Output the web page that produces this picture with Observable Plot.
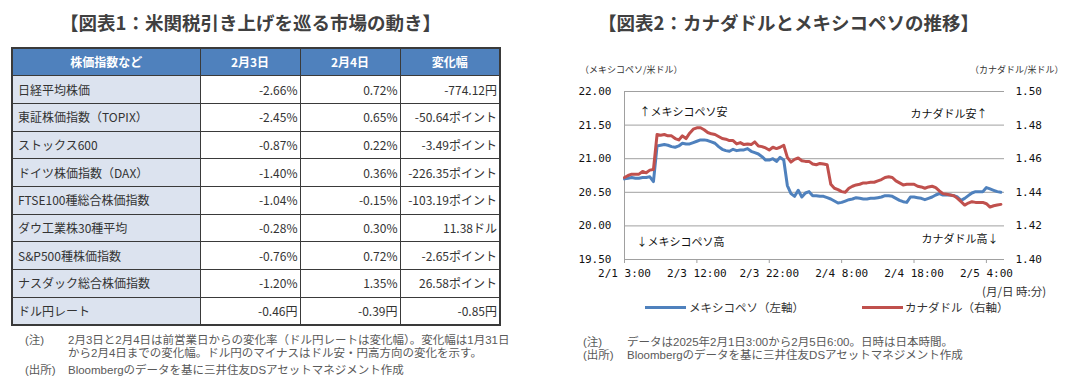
<!DOCTYPE html>
<html><head><meta charset="utf-8">
<script src="https://cdn.jsdelivr.net/npm/d3@7"></script>
<script src="https://cdn.jsdelivr.net/npm/@observablehq/plot@0.6"></script>
<style>
html,body{margin:0;padding:0;background:#fff;}
body{width:1084px;height:385px;position:relative;overflow:hidden;font-family:"Noto Sans CJK JP","Noto Sans",sans-serif;color:#333;}
.abs{position:absolute;white-space:nowrap;}
.title{font-weight:bold;font-size:18.5px;color:#404040;top:9px;}
table{position:absolute;left:11px;top:47px;width:488px;border-collapse:collapse;border:2px solid #3a3a3a;table-layout:fixed;font-size:12px;}
tr{height:27.7px;}
td,th{border:1px solid #3a3a3a;padding:0;line-height:14px;}
th{background:#4F81BD;color:#fff;font-weight:bold;text-align:center;}
td.name{background:#DCE3EF;padding-left:5px;text-align:left;}
td.num{text-align:right;padding-right:2px;}
.note{font-family:"Liberation Sans","Noto Sans CJK JP",sans-serif;font-size:11.5px;color:#595959;line-height:13px;}
.small{font-size:9px;color:#333;line-height:11px;}
.leg{font-size:11.5px;color:#333;line-height:14px;}
.sw{position:absolute;height:3px;}
</style>
</head><body>
<div class="abs title" style="left:60px;">【図表1：米関税引き上げを巡る市場の動き】</div>
<div class="abs title" style="left:598px;">【図表2：カナダドルとメキシコペソの推移】</div>
<div id="tbl"></div>
<div class="abs note" style="left:25px;top:334px;">(注)</div>
<div class="abs note" style="left:68px;top:334px;">2月3日と2月4日は前営業日からの変化率（ドル円レートは変化幅）。変化幅は1月31日<br>から2月4日までの変化幅。ドル円のマイナスはドル安・円高方向の変化を示す。</div>
<div class="abs note" style="left:25px;top:364px;">(出所)</div>
<div class="abs note" style="left:68px;top:364px;">Bloombergのデータを基に三井住友DSアセットマネジメント作成</div>

<div class="abs small" id="ylabL" style="left:580px;top:64px;"></div>
<div class="abs small" id="ylabR" style="left:970px;top:64px;"></div>
<div id="chart" class="abs" style="left:560px;top:55px;"></div>
<div class="abs leg" style="left:982px;top:284px;">(月/日 時:分)</div>
<div class="sw" style="left:645px;top:306px;width:41px;background:#4F81BD;"></div>
<div class="abs leg" id="legB" style="left:689px;top:300px;"></div>
<div class="sw" style="left:862px;top:306px;width:41px;background:#C0504D;"></div>
<div class="abs leg" id="legR" style="left:905px;top:300px;"></div>
<div class="abs note" style="left:583px;top:336px;">(注)</div>
<div class="abs note" style="left:627px;top:336px;">データは2025年2月1日3:00から2月5日6:00。日時は日本時間。</div>
<div class="abs note" style="left:583px;top:349px;">(出所)</div>
<div class="abs note" style="left:627px;top:349px;">Bloombergのデータを基に三井住友DSアセットマネジメント作成</div>

<script>
// ---- Figure 1 table data ----
const headers = ["株価指数など", "2月3日", "2月4日", "変化幅"];
const names = ["日経平均株価","東証株価指数（TOPIX）","ストックス600","ドイツ株価指数（DAX）","FTSE100種総合株価指数","ダウ工業株30種平均","S&P500種株価指数","ナスダック総合株価指数","ドル円レート"];
const feb3 = ["-2.66%","-2.45%","-0.87%","-1.40%","-1.04%","-0.28%","-0.76%","-1.20%","-0.46円"];
const feb4 = ["0.72%","0.65%","0.22%","0.36%","-0.15%","0.30%","0.72%","1.35%","-0.39円"];
const change = ["-774.12円","-50.64ポイント","-3.49ポイント","-226.35ポイント","-103.19ポイント","11.38ドル","-2.65ポイント","26.58ポイント","-0.85円"];

// ---- Figure 2 chart data (30-minute observations, trading hours only) ----
const seriesNames = ["メキシコペソ（左軸）", "カナダドル（右軸）"];
const axisUnits = ["（メキシコペソ/米ドル）", "（カナダドル/米ドル）"];
const peso = [20.70,20.71,20.72,20.71,20.71,20.72,20.72,20.73,20.66,21.19,21.20,21.21,21.20,21.18,21.17,21.19,21.23,21.22,21.22,21.24,21.26,21.28,21.28,21.27,21.25,21.23,21.18,21.14,21.12,21.11,21.14,21.12,21.13,21.13,21.15,21.11,21.09,21.07,21.03,20.98,20.98,21.00,20.96,21.02,20.98,20.60,20.48,20.44,20.53,20.43,20.49,20.51,20.45,20.45,20.44,20.44,20.42,20.40,20.37,20.34,20.35,20.37,20.39,20.40,20.42,20.41,20.40,20.40,20.41,20.41,20.42,20.43,20.45,20.45,20.44,20.41,20.38,20.36,20.35,20.43,20.43,20.42,20.41,20.39,20.41,20.43,20.46,20.48,20.46,20.46,20.46,20.45,20.43,20.38,20.41,20.45,20.49,20.51,20.51,20.51,20.57,20.55,20.53,20.51,20.50];
const cad = [1.4488,1.4500,1.4508,1.4508,1.4508,1.4524,1.4516,1.4532,1.4536,1.4744,1.4740,1.4744,1.4736,1.4736,1.4720,1.4712,1.4736,1.4720,1.4752,1.4776,1.4784,1.4784,1.4772,1.4756,1.4748,1.4744,1.4732,1.4720,1.4716,1.4708,1.4708,1.4688,1.4696,1.4684,1.4688,1.4684,1.4700,1.4676,1.4672,1.4664,1.4652,1.4668,1.4660,1.4668,1.4680,1.4608,1.4580,1.4596,1.4604,1.4588,1.4584,1.4584,1.4568,1.4564,1.4572,1.4568,1.4564,1.4448,1.4424,1.4416,1.4404,1.4400,1.4424,1.4436,1.4444,1.4448,1.4456,1.4456,1.4460,1.4460,1.4468,1.4476,1.4488,1.4492,1.4488,1.4468,1.4456,1.4444,1.4448,1.4448,1.4448,1.4436,1.4432,1.4424,1.4432,1.4436,1.4428,1.4408,1.4392,1.4388,1.4384,1.4380,1.4364,1.4344,1.4324,1.4336,1.4344,1.4340,1.4340,1.4340,1.4332,1.4312,1.4320,1.4324,1.4328];
const tickPos = [0, 20, 40, 60, 80, 100];
const tickLabels = ["2/1 3:00","2/3 12:00","2/3 22:00","2/4 8:00","2/4 18:00","2/5 4:00"];
const leftTicks = [19.5, 20.0, 20.5, 21.0, 21.5, 22.0];
const rightTicks = [1.40, 1.42, 1.44, 1.46, 1.48, 1.50];
const notes = ["↑メキシコペソ安", "カナダドル安↑", "↓メキシコペソ高", "カナダドル高↓"];

// build table
const t = document.createElement("table");
const cols = document.createElement("colgroup");
[188, 100, 100, 100].forEach(w => { const c = document.createElement("col"); c.style.width = w + "px"; cols.appendChild(c); });
t.appendChild(cols);
const hr = t.insertRow();
headers.forEach(h => { const th = document.createElement("th"); th.textContent = h; hr.appendChild(th); });
names.forEach((n, i) => {
  const r = t.insertRow();
  const c0 = r.insertCell(); c0.className = "name"; c0.textContent = n;
  [feb3[i], feb4[i], change[i]].forEach(v => { const c = r.insertCell(); c.className = "num"; c.textContent = v; });
});
document.getElementById("tbl").appendChild(t);

document.getElementById("ylabL").textContent = axisUnits[0];
document.getElementById("ylabR").textContent = axisUnits[1];
document.getElementById("legB").textContent = seriesNames[0];
document.getElementById("legR").textContent = seriesNames[1];

// chart
const lo = leftTicks[0], hi = leftTicks[leftTicks.length - 1];
const rlo = rightTicks[0], rhi = rightTicks[rightTicks.length - 1];
const toLeft = r => lo + (r - rlo) / (rhi - rlo) * (hi - lo);
const toRight = v => rlo + (v - lo) / (hi - lo) * (rhi - rlo);
const data = peso.map((v, i) => ({i, peso: v, cad: cad[i]}));
const jp = "Noto Sans CJK JP";
const chart = Plot.plot({
  width: 510, height: 240,
  marginLeft: 64, marginRight: 66, marginTop: 36, marginBottom: 36,
  style: {fontFamily: "DejaVu Sans Mono", fontSize: "11px", color: "#111", background: "transparent"},
  x: {domain: [0, 105], axis: null},
  y: {domain: [lo, hi], axis: null},
  marks: [
    Plot.ruleY(leftTicks, {stroke: "#a0a0a0", strokeWidth: 1}),
    Plot.ruleX([0], {stroke: "#a0a0a0", strokeWidth: 1}),
    Plot.axisY(leftTicks, {anchor: "left", label: null, tickSize: 0, tickPadding: 13, tickFormat: d => d.toFixed(2)}),
    Plot.axisY(rightTicks.map(toLeft), {anchor: "right", label: null, tickSize: 0, tickPadding: 11, tickFormat: d => toRight(d).toFixed(2)}),
    Plot.axisX(tickPos, {anchor: "bottom", label: null, tickSize: 4, tickPadding: 6, stroke: "#a0a0a0", tickFormat: (d, i) => tickLabels[i]}),
    Plot.line(data, {x: "i", y: "peso", stroke: "#4F81BD", strokeWidth: 3, strokeLinejoin: "round"}),
    Plot.line(data, {x: "i", y: d => toLeft(d.cad), stroke: "#C0504D", strokeWidth: 3, strokeLinejoin: "round"}),
    Plot.text([notes[0]], {frameAnchor: "top-left", dx: 15, dy: 17, fontFamily: jp, fontSize: 11, textAnchor: "start"}),
    Plot.text([notes[1]], {frameAnchor: "top-right", dx: -17, dy: 19, fontFamily: jp, fontSize: 11, textAnchor: "end"}),
    Plot.text([notes[2]], {frameAnchor: "bottom-left", dx: 12, dy: -14, fontFamily: jp, fontSize: 11, textAnchor: "start"}),
    Plot.text([notes[3]], {frameAnchor: "bottom-right", dx: -6, dy: -17, fontFamily: jp, fontSize: 11, textAnchor: "end"})
  ]
});
document.getElementById("chart").appendChild(chart);
</script>
</body></html>
